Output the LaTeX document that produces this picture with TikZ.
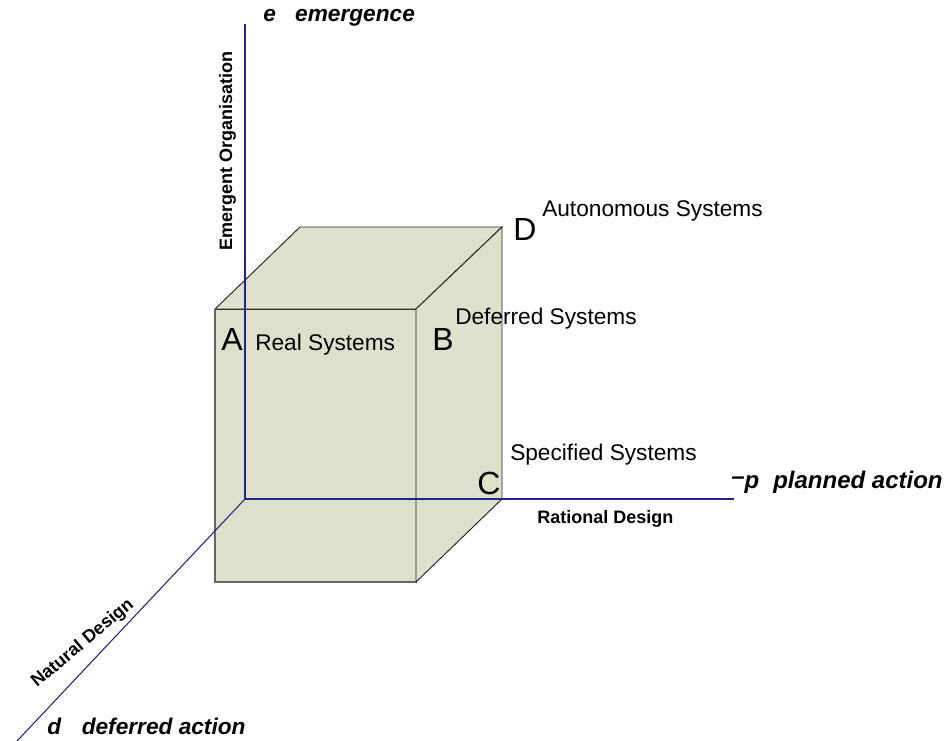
\documentclass[tikz,border=0pt]{standalone}
\usepackage{fontspec}
\setmainfont{Liberation Sans}
\definecolor{boxfill}{RGB}{221,224,202}
\definecolor{axisblue}{RGB}{35,35,140}
\definecolor{edgegray}{RGB}{35,35,35}
\begin{document}
\begin{tikzpicture}[x=0.75pt,y=-0.75pt,
  axis/.style={draw=axisblue,line width=0.8pt},
  boxedge/.style={draw=edgegray,line width=0.7pt,fill=boxfill,line join=miter},
  corner/.style={font=\fontsize{24}{28}\selectfont,inner sep=0pt,anchor=base west},
  syslabel/.style={font=\fontsize{17}{20}\selectfont,inner sep=0pt,anchor=base west},
  axislabel/.style={font=\fontsize{17}{20}\selectfont\bfseries\itshape,inner sep=0pt,anchor=base west},
  designlabel/.style={font=\fontsize{13.5}{16}\selectfont\bfseries,inner sep=0pt},
]
\useasboundingbox (0,0) rectangle (950,740);

% box
\coordinate (f1) at (215,309);
\coordinate (f2) at (416,309);
\coordinate (f3) at (416,582);
\coordinate (f4) at (215,582);
\coordinate (b1) at (300,227);
\coordinate (b2) at (502,227);
\coordinate (b3) at (502,499);
\draw[boxedge] (f1) -- (f2) -- (f3) -- (f4) -- cycle;
\draw[boxedge] (f1) -- (b1) -- (b2) -- (f2) -- cycle;
\draw[boxedge] (f2) -- (b2) -- (b3) -- (f3) -- cycle;
\draw[draw=gray!80!black,line width=1.2pt] (f1) -- (f4) -- (f3);

% axes
\coordinate (O) at (245,499);
\coordinate (eEnd) at (245,24);
\coordinate (pEnd) at (734,499);
\coordinate (dEnd) at (17,741);
\draw[axis] (O) -- (eEnd);
\draw[axis] (O) -- (pEnd);
\draw[axis] (O) -- (dEnd);

% labels
\node[axislabel] (eLab) at (263,21) {e\hspace{14.5pt}emergence};
\node[designlabel,rotate=90,anchor=base] (eoLab) at (232,151) {Emergent Organisation};
\node[corner] (D) at (513,240) {D};
\node[syslabel] (auto) at (542,216) {Autonomous Systems};
\node[syslabel] (def) at (455,324) {Deferred Systems};
\node[corner] (A) at (221,350) {A};
\node[syslabel] (real) at (255,350) {Real Systems};
\node[corner] (B) at (432,350) {B};
\node[syslabel] (spec) at (510,460) {Specified Systems};
\node[corner] (C) at (477,494) {C};
\node[designlabel,anchor=base west] (rat) at (537,523) {Rational Design};
\node[axislabel,font=\fontsize{18}{21}\selectfont\bfseries\itshape] (pLab) at (731,488) {\raisebox{3pt}{–}p\hspace{10.5pt}planned action};
\node[axislabel] (dLab) at (47,734) {d\hspace{15.5pt}deferred action};
\node[designlabel,rotate=40,anchor=base west] (nat) at (37,688) {Natural Design};
\end{tikzpicture}
\end{document}
